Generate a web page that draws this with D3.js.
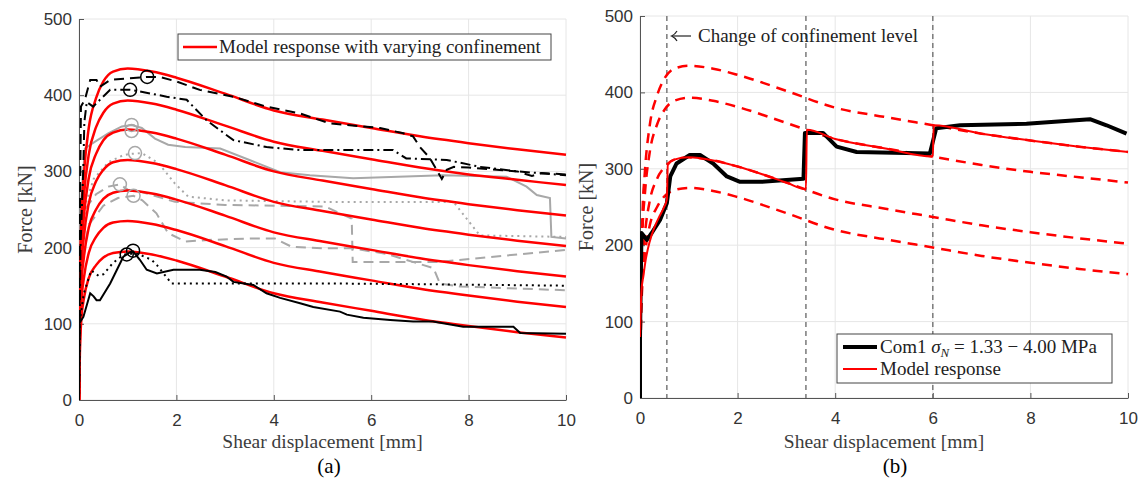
<!DOCTYPE html>
<html>
<head>
<meta charset="utf-8">
<script src="https://cdn.jsdelivr.net/npm/d3@7"></script>
<style>
  body { margin: 0; background: #fff; }
</style>
</head>
<body>
<div id="chart"></div>
<script>
// ---- data ----
const xTicks = [0, 2, 4, 6, 8, 10];
const yTicks = [0, 100, 200, 300, 400, 500];

// model curves (same displacement grid for all)
const modelX  = [0, 0.02, 0.05, 0.1, 0.2, 0.35, 0.5, 0.7, 1, 1.5, 2, 3, 4, 5, 6, 7, 8, 9, 10];
const model1 = [0, 152, 239, 296, 357, 396, 418, 431, 435, 431, 423, 402, 380, 368, 357, 346, 337, 329, 322];
const model2 = [0, 138, 216, 267, 322, 358, 377, 389, 393, 389, 381, 360, 339, 327, 316, 305, 296, 289, 282];
const model3 = [0, 124, 195, 241, 291, 323, 341, 351, 355, 351, 343, 322, 300, 288, 277, 266, 257, 249, 242];
const model4 = [0, 110, 173, 214, 258, 287, 302, 312, 315, 311, 303, 282, 260, 248, 237, 226, 217, 209, 202];
const model5 = [0, 96, 151, 187, 226, 250, 264, 272, 275, 271, 263, 242, 220, 208, 197, 186, 177, 169, 162];
const model6 = [0, 82, 129, 160, 193, 214, 226, 233, 235, 231, 223, 202, 180, 168, 157, 146, 137, 129, 122];
const model7 = [0, 68, 107, 133, 160, 177, 187, 193, 195, 191, 183, 162, 140, 128, 117, 106, 97, 89, 82];
const modelsA = [model1, model2, model3, model4, model5, model6, model7];
const modelsB = [model1, model2, model4, model5];

// experiments, panel (a): [displacement mm, force kN]
const expBlackSolid = [[0,0],[0.01,101],[0.09,109],[0.23,140],[0.3,136],[0.36,131],[0.43,131],[0.64,153],[0.91,188],[1.05,194],[1.11,195],[1.25,184],[1.39,171],[1.6,166],[1.94,171],[2.48,171],[2.8,168],[3.03,162],[3.17,155],[3.58,151],[3.85,140],[4.13,134],[4.54,127],[4.81,122],[5.36,116],[5.5,112],[5.84,108],[6.39,105],[6.86,103],[7.27,103],[7.89,96],[8.92,96],[9.06,88],[10,87]];
const expBlackDotted = [[0,0],[0.02,105],[0.1,140],[0.25,170],[0.4,163],[0.5,165],[0.7,180],[0.9,190],[1.0,192],[1.2,192],[1.49,184],[1.6,177],[1.9,153],[3,153],[5,153],[7,152],[10,150]];
const expBlackDashed = [[0,0],[0.02,250],[0.04,385],[0.12,394],[0.23,420],[0.36,420],[0.43,411],[0.64,420],[0.98,422],[1.39,424],[1.66,424],[2,418],[2.48,407],[3.17,398],[3.85,385],[4.54,376],[5.15,363],[6.18,357],[6.66,350],[6.86,346],[7.0,332],[7.2,318],[7.45,290],[7.55,302],[7.7,306],[8,305],[9,300],[9.3,294],[9.5,298],[10,296]];
const expBlackDashDot = [[0,0],[0.03,200],[0.09,308],[0.11,365],[0.16,391],[0.29,385],[0.43,394],[0.64,407],[1.05,407],[1.25,405],[1.8,398],[2.21,394],[2.62,367],[3.17,341],[3.85,332],[4.54,328],[6.45,328],[6.72,317],[7.55,315],[8.23,306],[9,300],[10,295]];
const expGraySolid = [[0,0],[0.03,250],[0.12,330],[0.33,339],[0.6,350],[0.88,359],[1.08,361],[1.29,357],[1.56,343],[1.83,335],[2.18,332],[2.9,330],[3.5,315],[4.13,299],[4.74,295],[5.63,291],[7.48,295],[8.78,293],[9.19,280],[9.4,269],[9.67,265],[9.7,214],[10,212]];
const expGrayDotted = [[0,0],[0.03,200],[0.15,260],[0.3,290],[0.6,312],[0.9,321],[1.05,323],[1.29,324],[1.63,311],[1.97,284],[2.24,267],[3,262],[5.05,260],[7.69,260],[8.23,216],[10,214]];
const expGrayDashA = [[0,0],[0.03,200],[0.12,250],[0.35,270],[0.6,280],[0.84,283],[1.0,276],[1.29,273],[1.97,260],[3,256],[5.05,254],[5.6,238],[5.62,181],[6.5,181],[7.34,181],[10,197]];
const expGrayDashB = [[0,0],[0.05,180],[0.2,230],[0.5,255],[0.8,265],[1.12,268],[1.3,262],[1.59,245],[1.83,219],[2.18,208],[2.65,210],[3.55,212],[4.02,212],[4.37,201],[5.05,199],[5.6,199],[6.3,192],[7.28,173],[7.41,153],[7.82,149],[10,144]];

const peaksBlack = [[1.4,424],[1.05,407],[0.98,191],[1.11,196]];
const peaksGray = [[1.08,361],[1.08,353],[1.15,324],[0.84,283],[1.12,268]];

// panel (b)
const expCom1 = [[0,0],[0,80],[0.03,216],[0.14,207],[0.24,216],[0.41,233],[0.55,255],[0.62,290],[0.75,307],[1.02,318],[1.23,318],[1.5,307],[1.78,290],[2.05,283],[2.5,283],[3.35,287],[3.38,347],[3.75,347],[4.03,329],[4.44,322],[5.94,320],[6.07,353],[6.56,357],[7.92,359],[9.22,365],[9.56,357],[9.97,346]];
const modelVarying = [[0,80],[0.03,140],[0.07,160],[0.12,182],[0.2,205],[0.3,224],[0.4,238],[0.48,248],[0.55,260],[0.57,305],[0.7,312],[1,315],[1.5,311],[2,303],[3,282],[3.4,273],[3.42,351],[4,339],[5,327],[6,316],[6.02,357],[7,346],[8,337],[9,329],[10,322]];
const confinementChanges = [0.55, 3.4, 6.0];

// ---- drawing ----
const W = 1140, H = 485;
const serif = "'Liberation Serif', 'Times New Roman', 'DejaVu Serif', serif";
const sans = "'Liberation Sans', Arial, Helvetica, sans-serif";

const svg = d3.select("#chart").append("svg")
  .attr("width", W).attr("height", H)
  .attr("viewBox", [0, 0, W, H]);

const defs = svg.append("defs");

function makePanel(id, box) {
  const x = d3.scaleLinear().domain([0, 10]).range([box.left, box.right]);
  const y = d3.scaleLinear().domain([0, 500]).range([box.bottom, box.top]);
  const g = svg.append("g");

  defs.append("clipPath").attr("id", "clip-" + id)
    .append("rect")
    .attr("x", box.left).attr("y", box.top - 1)
    .attr("width", box.right - box.left + 1).attr("height", box.bottom - box.top + 1);

  // grid
  g.append("g").selectAll("line").data(xTicks).join("line")
    .attr("x1", d => x(d)).attr("x2", d => x(d))
    .attr("y1", box.top).attr("y2", box.bottom)
    .attr("stroke", "#e6e6e6").attr("stroke-width", 1);
  g.append("g").selectAll("line").data(yTicks).join("line")
    .attr("x1", box.left).attr("x2", box.right)
    .attr("y1", d => y(d)).attr("y2", d => y(d))
    .attr("stroke", "#e6e6e6").attr("stroke-width", 1);

  // axes
  const ax = g.append("g").attr("transform", `translate(0,${box.bottom})`)
    .call(d3.axisBottom(x).tickValues(xTicks).tickSizeInner(-5).tickSizeOuter(0).tickPadding(14));
  const ay = g.append("g").attr("transform", `translate(${box.left},0)`)
    .call(d3.axisLeft(y).tickValues(yTicks).tickSizeInner(-5).tickSizeOuter(0).tickPadding(7));
  [ax, ay].forEach(a => {
    a.attr("font-family", sans).attr("font-size", 17);
    a.selectAll("text").attr("fill", "#333");
    a.selectAll("line").attr("stroke", "#555");
    a.select(".domain").attr("stroke", "#555");
  });

  // axis titles
  g.append("text")
    .attr("x", (box.left + box.right) / 2).attr("y", 448)
    .attr("text-anchor", "middle")
    .attr("font-family", serif).attr("font-size", 19.5).attr("fill", "#3c3c3c")
    .text("Shear displacement [mm]");
  g.append("text")
    .attr("transform", `translate(${box.left - 47},${(box.top + box.bottom) / 2}) rotate(-90)`)
    .attr("text-anchor", "middle")
    .attr("font-family", serif).attr("font-size", 20).attr("fill", "#3c3c3c")
    .text("Force [kN]");

  const plot = svg.append("g").attr("clip-path", `url(#clip-${id})`);
  return { x, y, g, plot };
}

// ===== panel (a) =====
const A = makePanel("a", { left: 79, right: 566, top: 19, bottom: 400 });
const lineA = d3.line().x(d => A.x(d[0])).y(d => A.y(d[1]));
const smoothA = d3.line().x(d => A.x(d[0])).y(d => A.y(d[1])).curve(d3.curveMonotoneX);

const grayCol = "#a8a8a8";
const grayLines = [
  { data: expGraySolid, dash: null },
  { data: expGrayDotted, dash: "2,4" },
  { data: expGrayDashA, dash: "10,6" },
  { data: expGrayDashB, dash: "10,6" }
];
A.plot.append("g").selectAll("path").data(grayLines).join("path")
  .attr("d", d => lineA(d.data))
  .attr("fill", "none").attr("stroke", grayCol).attr("stroke-width", 2)
  .attr("stroke-dasharray", d => d.dash);

A.plot.append("g").selectAll("path").data(modelsA).join("path")
  .attr("d", m => smoothA(modelX.map((v, i) => [v, m[i]])))
  .attr("fill", "none").attr("stroke", "#ff0000").attr("stroke-width", 2.5);

const blackLines = [
  { data: expBlackSolid, dash: null },
  { data: expBlackDotted, dash: "2,4" },
  { data: expBlackDashed, dash: "10,6" },
  { data: expBlackDashDot, dash: "10,4,2,4" }
];
A.plot.append("g").selectAll("path").data(blackLines).join("path")
  .attr("d", d => lineA(d.data))
  .attr("fill", "none").attr("stroke", "#000").attr("stroke-width", 2)
  .attr("stroke-dasharray", d => d.dash);

A.plot.append("g").selectAll("circle").data(peaksGray).join("circle")
  .attr("cx", d => A.x(d[0])).attr("cy", d => A.y(d[1])).attr("r", 6.5)
  .attr("fill", "none").attr("stroke", grayCol).attr("stroke-width", 1.5);
A.plot.append("g").selectAll("circle").data(peaksBlack).join("circle")
  .attr("cx", d => A.x(d[0])).attr("cy", d => A.y(d[1])).attr("r", 6.5)
  .attr("fill", "none").attr("stroke", "#000").attr("stroke-width", 1.5);

// legend (a)
const legA = svg.append("g");
legA.append("rect").attr("x", 178).attr("y", 34).attr("width", 373).attr("height", 26)
  .attr("fill", "#fff").attr("stroke", "#444").attr("stroke-width", 1);
legA.append("line").attr("x1", 183).attr("x2", 217).attr("y1", 47).attr("y2", 47)
  .attr("stroke", "#ff0000").attr("stroke-width", 2.5);
legA.append("text").attr("x", 219).attr("y", 53)
  .attr("font-family", serif).attr("font-size", 19).attr("fill", "#222")
  .text("Model response with varying confinement");

svg.append("text").attr("x", 329).attr("y", 473).attr("text-anchor", "middle")
  .attr("font-family", serif).attr("font-size", 21).attr("fill", "#000").text("(a)");

// ===== panel (b) =====
const B = makePanel("b", { left: 640, right: 1128, top: 16, bottom: 398 });
const lineB = d3.line().x(d => B.x(d[0])).y(d => B.y(d[1]));
const smoothB = d3.line().x(d => B.x(d[0])).y(d => B.y(d[1])).curve(d3.curveMonotoneX);

B.plot.append("g").selectAll("line").data(confinementChanges).join("line")
  .attr("x1", d => B.x(d)).attr("x2", d => B.x(d))
  .attr("y1", B.y(500)).attr("y2", B.y(0))
  .attr("stroke", "#7a7a7a").attr("stroke-width", 1.5).attr("stroke-dasharray", "5,4");

B.plot.append("g").selectAll("path").data(modelsB).join("path")
  .attr("d", m => smoothB(modelX.map((v, i) => [v, m[i]])))
  .attr("fill", "none").attr("stroke", "#ff0000").attr("stroke-width", 2.5)
  .attr("stroke-dasharray", "10,7");

B.plot.append("path").attr("d", lineB(expCom1))
  .attr("fill", "none").attr("stroke", "#000").attr("stroke-width", 4)
  .attr("stroke-linejoin", "round");

B.plot.append("path").attr("d", smoothB(modelVarying))
  .attr("fill", "none").attr("stroke", "#ff0000").attr("stroke-width", 2);

// annotation: long left arrow + text
const arrow = svg.append("g").attr("stroke", "#222").attr("stroke-width", 1.2).attr("fill", "none");
arrow.append("line").attr("x1", 672).attr("x2", 691).attr("y1", 36).attr("y2", 36);
arrow.append("path").attr("d", "M677,31 Q675,34.5 671.5,36 Q675,37.5 677,41");
svg.append("text").attr("x", 698).attr("y", 42)
  .attr("font-family", serif).attr("font-size", 19).attr("fill", "#222")
  .text("Change of confinement level");

// legend (b)
const legB = svg.append("g");
legB.append("rect").attr("x", 837).attr("y", 334).attr("width", 275).attr("height", 49)
  .attr("fill", "#fff").attr("stroke", "#444").attr("stroke-width", 1);
legB.append("line").attr("x1", 843).attr("x2", 877).attr("y1", 347).attr("y2", 347)
  .attr("stroke", "#000").attr("stroke-width", 4);
legB.append("line").attr("x1", 843).attr("x2", 877).attr("y1", 369).attr("y2", 369)
  .attr("stroke", "#ff0000").attr("stroke-width", 2);
const t1 = legB.append("text").attr("x", 880).attr("y", 353)
  .attr("font-family", serif).attr("font-size", 19).attr("fill", "#222");
t1.append("tspan").text("Com1 ");
t1.append("tspan").attr("font-style", "italic").text("\u03c3");
t1.append("tspan").attr("font-style", "italic").attr("font-size", 13).attr("dy", 4).text("N");
t1.append("tspan").attr("dy", -4).text(" = 1.33 \u2212 4.00 MPa");
legB.append("text").attr("x", 880).attr("y", 375)
  .attr("font-family", serif).attr("font-size", 19).attr("fill", "#222")
  .text("Model response");

svg.append("text").attr("x", 895).attr("y", 473).attr("text-anchor", "middle")
  .attr("font-family", serif).attr("font-size", 21).attr("fill", "#000").text("(b)");
</script>
</body>
</html>
